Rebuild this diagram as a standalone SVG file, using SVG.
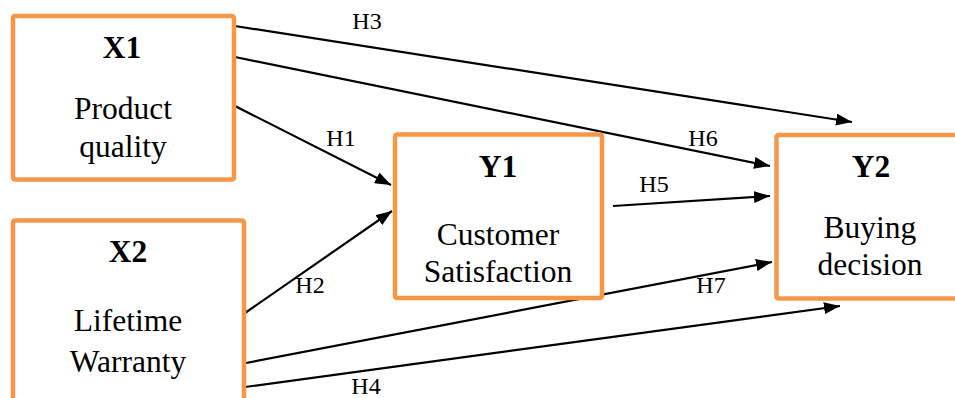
<svg xmlns="http://www.w3.org/2000/svg" width="955" height="398" viewBox="0 0 955 398">
<defs>
<style>
.box{fill:#fff;stroke:#F79646;stroke-width:4.5}
.t{font-size:31.5px}
.b{font-weight:bold}
.lbl{font-size:24px}
.c{stroke:#000;stroke-width:2.2;fill:none;marker-end:url(#ah)}
</style>
<marker id="ah" markerUnits="userSpaceOnUse" markerWidth="16" markerHeight="12" refX="16" refY="6" orient="auto">
<path d="M0,0 L16,6 L0,12 z" fill="#000"/>
</marker>
</defs>
<rect width="955" height="398" fill="#fff"/>
<g id="connectors">
<line class="c" x1="235" y1="26" x2="852" y2="122"/>
<line class="c" x1="235" y1="57" x2="770" y2="166"/>
<line class="c" x1="233" y1="105" x2="391" y2="185"/>
<line class="c" x1="245" y1="313" x2="392" y2="211"/>
<line class="c" x1="613" y1="206" x2="770" y2="196"/>
<line class="c" x1="246" y1="363" x2="772" y2="262"/>
<line class="c" x1="245" y1="387" x2="840" y2="306"/>
</g>
<g font-family="Liberation Serif, Times New Roman, DejaVu Serif, serif" text-anchor="middle" fill="#000">
<g id="labels">
<text class="lbl" x="367" y="29">H3</text>
<text class="lbl" x="341" y="146">H1</text>
<text class="lbl" x="310" y="293">H2</text>
<text class="lbl" x="366" y="394">H4</text>
<text class="lbl" x="654" y="192">H5</text>
<text class="lbl" x="703" y="146">H6</text>
<text class="lbl" x="711" y="293">H7</text>
</g>
<g id="X1">
<rect class="box" x="13" y="16" width="221" height="163.5" rx="2"/>
<text class="t b" x="122" y="58">X1</text>
<text class="t" x="123" y="119">Product</text>
<text class="t" x="123" y="157">quality</text>
</g>
<g id="X2">
<rect class="box" x="13" y="220.5" width="231" height="200" rx="2"/>
<text class="t b" x="128" y="262">X2</text>
<text class="t" x="128" y="331">Lifetime</text>
<text class="t" x="128" y="372">Warranty</text>
</g>
<g id="Y1">
<rect class="box" x="395" y="134.5" width="207" height="163.5" rx="2"/>
<text class="t b" x="498" y="177">Y1</text>
<text class="t" x="498" y="245">Customer</text>
<text class="t" x="498" y="282">Satisfaction</text>
</g>
<g id="Y2">
<rect class="box" x="776.5" y="135" width="200" height="163.5" rx="2"/>
<text class="t b" x="871" y="177">Y2</text>
<text class="t" x="870" y="238">Buying</text>
<text class="t" x="870" y="275">decision</text>
</g>
</g>
</svg>
